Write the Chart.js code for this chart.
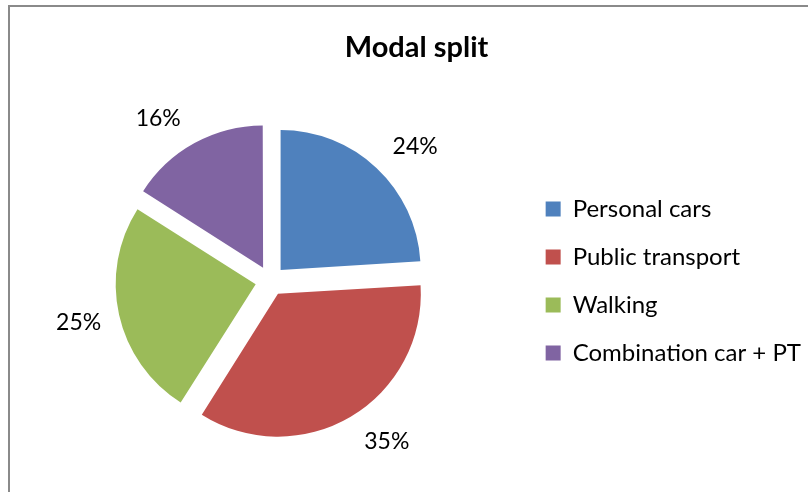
<!DOCTYPE html>
<html>
<head>
<meta charset="utf-8">
<script src="https://cdn.jsdelivr.net/npm/chart.js@4"></script>
<style>
  html, body { margin: 0; padding: 0; background: #ffffff; }
  #wrap { width: 808px; height: 492px; }
</style>
</head>
<body>
<div id="wrap"><canvas id="c" width="808" height="492"></canvas></div>
<script>
const chartTitle = 'Modal split';
const categories = ['Personal cars', 'Public transport', 'Walking', 'Combination car + PT'];
const shares = [24, 35, 25, 16];
const sliceColors = ['#4F81BD', '#C0504D', '#9BBB59', '#8064A2'];

const FONT = 'Lato, "Open Sans", sans-serif';

const frame = {
  id: 'frame',
  beforeDraw(chart) {
    const ctx = chart.ctx;
    ctx.save();
    ctx.fillStyle = '#ffffff';
    ctx.fillRect(0, 0, chart.width, chart.height);
    ctx.strokeStyle = '#8a8a8a';
    ctx.lineWidth = 2;
    ctx.beginPath();
    ctx.moveTo(9, chart.height + 2);
    ctx.lineTo(9, 6);
    ctx.lineTo(chart.width + 2, 6);
    ctx.stroke();
    ctx.restore();
  }
};

const titleShift = {
  id: 'titleShift',
  afterLayout(chart) {
    const t = chart.titleBlock;
    if (t) { t.left = 8; t.right = 825; }
  }
};

const pctLabels = {
  id: 'pctLabels',
  afterDatasetsDraw(chart) {
    const ctx = chart.ctx;
    const meta = chart.getDatasetMeta(0);
    const data = chart.data.datasets[0].data;
    const total = data.reduce((a, b) => a + b, 0);
    const fs = 23;
    const capH = fs * 0.72;
    const gapX = 6, padX = 12, gapY = 31;
    ctx.save();
    ctx.font = fs + 'px ' + FONT;
    ctx.fillStyle = '#000000';
    ctx.textAlign = 'center';
    ctx.textBaseline = 'alphabetic';
    meta.data.forEach((arc, i) => {
      const p = arc.getProps(['x', 'y', 'startAngle', 'endAngle', 'outerRadius'], true);
      const mid = (p.startAngle + p.endAngle) / 2;
      const shift = (arc.options.offset || 0) / 4;
      const txt = Math.round(data[i] / total * 100) + '%';
      const w = ctx.measureText(txt).width;
      const cx = Math.cos(mid), cy = Math.sin(mid);
      const vx = p.x + cx * shift, vy = p.y + cy * shift;
      const x = vx + cx * (p.outerRadius + gapX) + Math.sign(cx) * (w / 2 + padX);
      const y = vy + cy * (p.outerRadius + gapY);
      ctx.fillText(txt, x, y + capH / 2);
    });
    ctx.restore();
  }
};

new Chart(document.getElementById('c'), {
  type: 'pie',
  data: {
    labels: categories,
    datasets: [{
      data: shares,
      backgroundColor: sliceColors,
      borderWidth: 0,
      offset: 60,
      radius: 140
    }]
  },
  options: {
    responsive: false,
    animation: false,
    layout: { padding: { left: 19, right: -3, top: 0, bottom: 0 } },
    plugins: {
      title: {
        display: true,
        text: chartTitle,
        color: '#000000',
        font: { family: FONT, size: 29, weight: 'bold' },
        padding: { top: 30, bottom: 5 }
      },
      legend: {
        position: 'right',
        align: 'center',
        fullSize: false,
        labels: {
          color: '#000000',
          font: { family: FONT, size: 24 },
          boxWidth: 15,
          boxHeight: 15,
          padding: 24
        }
      },
      tooltip: { enabled: false }
    }
  },
  plugins: [frame, titleShift, pctLabels]
});
</script>
</body>
</html>
